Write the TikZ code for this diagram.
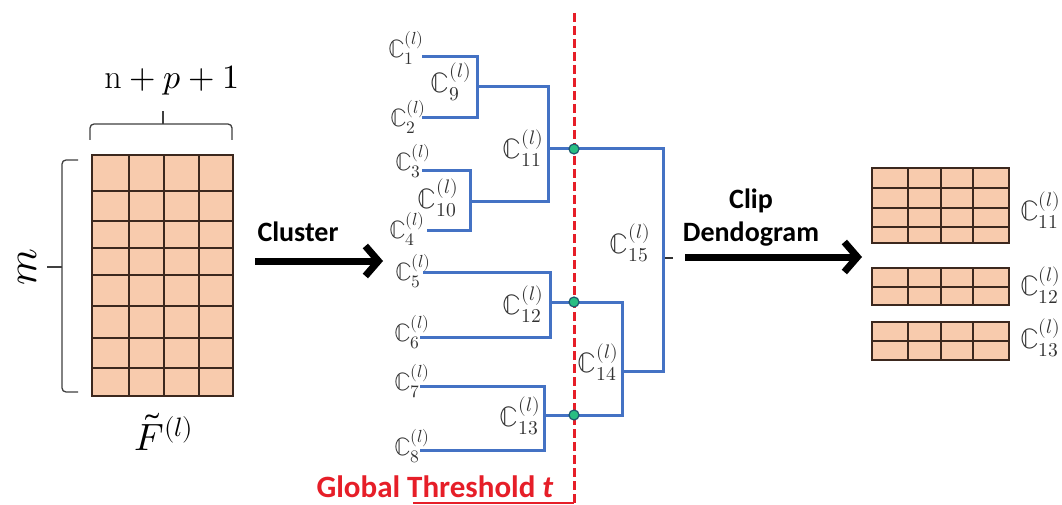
\documentclass[tikz,border=0pt]{standalone}
\usepackage{fontspec}
\usepackage{unicode-math}
\setmathfont{Latin Modern Math}
\newfontfamily\calb{Carlito}[BoldFont=* Bold, ItalicFont=* Italic, BoldItalicFont=* Bold Italic]
\usetikzlibrary{arrows.meta}
\definecolor{matfill}{RGB}{248,203,173}
\definecolor{gridc}{RGB}{60,40,30}
\definecolor{denblue}{RGB}{68,114,196}
\definecolor{labc}{RGB}{50,50,50}
\definecolor{thred}{RGB}{230,30,40}
\definecolor{dotgreen}{RGB}{40,190,130}
\definecolor{dotedge}{RGB}{30,90,110}
\tikzset{
  matgrid/.style={draw=gridc, line width=2pt},
  den/.style={draw=denblue, line width=3pt},
  leaflab/.style={text=labc, inner sep=0pt, font=\fontsize{25}{27}\selectfont},
  inlab/.style={text=labc, inner sep=0pt, font=\fontsize{28}{30}\selectfont},
  cutdot/.style={circle, fill=dotgreen, draw=dotedge, line width=1.2pt, minimum size=10pt, inner sep=0pt},
  bigarrow/.style={line width=7pt, -{Straight Barb[length=13pt, width=30pt]}},
  boldlab/.style={font=\calb\bfseries\fontsize{28}{33}\selectfont, inner sep=0pt},
  brace/.style={draw=black!75, line width=1.3pt},
}
\begin{document}
\begin{tikzpicture}[x=1pt, y=-1pt]
\useasboundingbox[fill=white] (0,0) rectangle (1062,505);

% ---------- left matrix ----------
\fill[matfill] (92,155) rectangle (233,396);
\foreach \yy in {191,221,248,275,306,338,368}
  \draw[matgrid] (92,\yy) -- (233,\yy);
\foreach \xx in {129,164,199}
  \draw[matgrid] (\xx,155) -- (\xx,396);
\draw[matgrid] (92,155) rectangle (233,396);

% braces
\draw[brace, rounded corners=4pt] (90,140) -- (90,124) -- (232,124) -- (232,140);
\draw[brace] (163,124) -- (163,111);
\draw[brace, rounded corners=4pt] (78,160) -- (62,160) -- (62,392) -- (78,392);
\draw[brace] (62,267) -- (47,267);

\node[inner sep=0pt, font=\fontsize{34}{36}\selectfont] (npp) at (172,80) {$\mathrm{n}+p+1$};
\node[inner sep=0pt, rotate=90, font=\fontsize{42}{44}\selectfont] (mm) at (27,267) {$m$};
\node[inner sep=0pt, font=\fontsize{38}{40}\selectfont] (ft) at (164,432) {$\tilde{F}^{(l)}$};

% ---------- cluster arrow ----------
\coordinate (ca1) at (255,261);
\coordinate (ca2) at (383,261);
\draw[bigarrow] (ca1) -- (ca2);
\node[boldlab] (cluster) at (298,232) {Cluster};

% ---------- dendrogram labels ----------
\node[leaflab] (c1) at (406,48) {$ℂ_{1}^{(l)}$};
\node[leaflab] (c2) at (408,117) {$ℂ_{2}^{(l)}$};
\node[leaflab] (c3) at (413,161) {$ℂ_{3}^{(l)}$};
\node[leaflab] (c4) at (407,229) {$ℂ_{4}^{(l)}$};
\node[leaflab] (c5) at (413,271) {$ℂ_{5}^{(l)}$};
\node[leaflab] (c6) at (412,332) {$ℂ_{6}^{(l)}$};
\node[leaflab] (c7) at (412,381) {$ℂ_{7}^{(l)}$};
\node[leaflab] (c8) at (412,446) {$ℂ_{8}^{(l)}$};
\node[inlab] (c9) at (451,82) {$ℂ_{9}^{(l)}$};
\node[inlab] (c10) at (438,198) {$ℂ_{10}^{(l)}$};
\node[inlab] (c11) at (523,148) {$ℂ_{11}^{(l)}$};
\node[inlab] (c12) at (523,304) {$ℂ_{12}^{(l)}$};
\node[inlab] (c13) at (520,416) {$ℂ_{13}^{(l)}$};
\node[inlab] (c14) at (598,362) {$ℂ_{14}^{(l)}$};
\node[inlab] (c15) at (630,243) {$ℂ_{15}^{(l)}$};

% ---------- dendrogram lines ----------
\coordinate (l1) at (422,57);
\coordinate (l2) at (422,118);
\coordinate (l3) at (422,171);
\coordinate (l4) at (427,230);
\coordinate (l5) at (423,272);
\coordinate (l6) at (420,337);
\coordinate (l7) at (420,386);
\coordinate (l8) at (420,450);
\coordinate (m9) at (477,87);
\coordinate (m10) at (470,201);
\coordinate (m11) at (548,149);
\coordinate (m12) at (550,302);
\coordinate (m13) at (544,415);
\coordinate (m14) at (622,371);
\coordinate (m15) at (663,258);

\draw[den] (l1) -| (m9) |- (l2);
\draw[den] (l3) -| (m10) |- (l4);
\draw[den] (m9) -| (m11) |- (m10);
\draw[den] (l5) -| (m12) |- (l6);
\draw[den] (l7) -| (m13) |- (l8);
\draw[den] (m12) -| (m14) |- (m13);
\draw[den] (m11) -| (m15) |- (m14);

% ---------- threshold ----------
\coordinate (thtop) at (574,13);
\coordinate (thbot) at (574,505);
\draw[thred, line width=3pt, dash pattern=on 9pt off 4pt] (thtop) -- (thbot);
\coordinate (ul1) at (413,503);
\coordinate (ul2) at (574,503);
\draw[thred, line width=2pt] (ul1) -- (ul2);
\node[font=\calb\bfseries\fontsize{31}{33}\selectfont, text=thred, inner sep=0pt] (gt) at (435,487) {Global Threshold \textit{t}};

\node[cutdot] (cut11) at (574,149) {};
\node[cutdot] (cut12) at (574,302) {};
\node[cutdot] (cut13) at (574,415) {};

% ---------- clip arrow ----------
\coordinate (tk1) at (665,258);
\coordinate (tk2) at (673,258);
\draw[labc, line width=1.5pt] (tk1) -- (tk2);
\coordinate (da1) at (685,257);
\coordinate (da2) at (862,257);
\draw[bigarrow] (da1) -- (da2);
\node[boldlab, align=center] (clip) at (751,218) {Clip\\Dendogram};

% ---------- right matrices ----------
\fill[matfill] (872,168) rectangle (1009,243);
\foreach \yy in {188,208,227}
  \draw[matgrid] (872,\yy) -- (1009,\yy);
\foreach \xx in {908,941,973}
  \draw[matgrid] (\xx,168) -- (\xx,243);
\draw[matgrid] (872,168) rectangle (1009,243);

\fill[matfill] (872,268) rectangle (1009,305);
\draw[matgrid] (872,287) -- (1009,287);
\foreach \xx in {908,941,973}
  \draw[matgrid] (\xx,268) -- (\xx,305);
\draw[matgrid] (872,268) rectangle (1009,305);

\fill[matfill] (872,322) rectangle (1009,360);
\draw[matgrid] (872,341) -- (1009,341);
\foreach \xx in {908,941,973}
  \draw[matgrid] (\xx,322) -- (\xx,360);
\draw[matgrid] (872,322) rectangle (1009,360);

\node[inlab, anchor=west] (r11) at (1020,210) {$ℂ_{11}^{(l)}$};
\node[inlab, anchor=west] (r12) at (1020,285) {$ℂ_{12}^{(l)}$};
\node[inlab, anchor=west] (r13) at (1020,338) {$ℂ_{13}^{(l)}$};
\end{tikzpicture}
\end{document}
